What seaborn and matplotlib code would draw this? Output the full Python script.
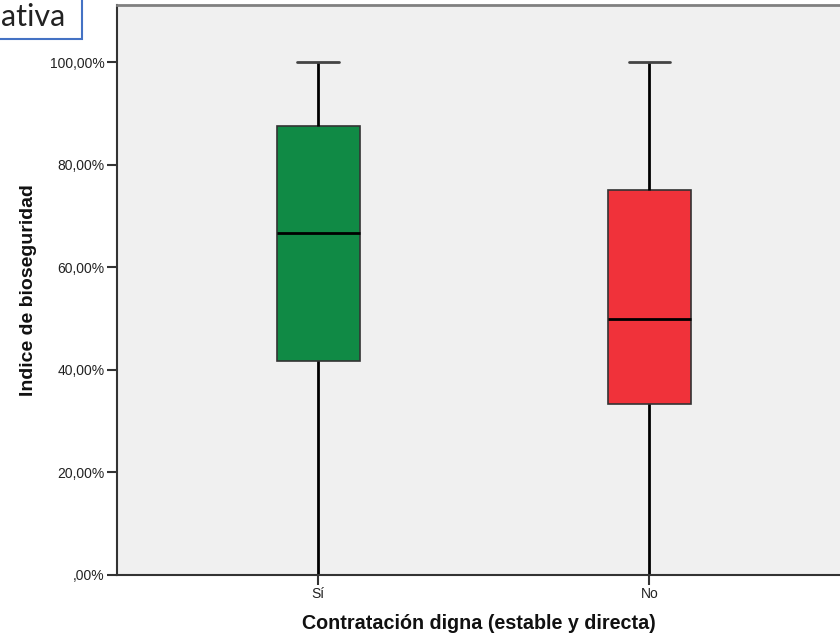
import matplotlib
matplotlib.use("Agg")
import matplotlib.pyplot as plt
import matplotlib.patches as mpatches
from matplotlib.ticker import FuncFormatter
import seaborn as sns
import pandas as pd

# Data (min, Q1, median, Q3, max)
categories = ["Sí", "No"]
si_values = [0.0, 41.67, 66.67, 87.5, 100.0]
no_values = [0.0, 33.33, 50.0, 75.0, 100.0]
box_colors = ["#108A45", "#F0323A"]
y_ticks = [0, 20, 40, 60, 80, 100]

df = pd.DataFrame({
    "grupo": [categories[0]] * len(si_values) + [categories[1]] * len(no_values),
    "valor": si_values + no_values,
})

sns.set_theme(style="white")
plt.rcParams["font.family"] = ["Liberation Sans", "DejaVu Sans"]

fig = plt.figure(figsize=(8.4, 6.37), dpi=100)
ax = fig.add_axes([117 / 840, 1 - 575 / 637, 1 - 117 / 840 + 0.002, (575 - 5) / 637])
ax.set_facecolor("#F0F0F0")

sns.boxplot(
    data=df, x="grupo", y="valor", hue="grupo", order=categories,
    palette=box_colors, legend=False, width=0.25, whis=1.5, ax=ax,
    linewidth=1.2, linecolor="#222222",
    whiskerprops=dict(color="black", linewidth=2),
    capprops=dict(color="#444444", linewidth=2),
    medianprops=dict(color="black", linewidth=2),
    boxprops=dict(edgecolor="#333333", linewidth=1.2),
    showfliers=False, saturation=1,
)

ax.set_ylim(0, (575 - 5) / ((575 - 62) / 100))
ax.set_xlim(-0.607, 1.58)
ax.set_yticks(y_ticks)
ax.yaxis.set_major_formatter(FuncFormatter(lambda v, p: (f"{v:.2f}".replace(".", ",") + "%") if v != 0 else ",00%"))

for s in ["left", "bottom"]:
    ax.spines[s].set_color("#333333")
    ax.spines[s].set_linewidth(1.5)
ax.spines["top"].set_color("#808080")
ax.spines["top"].set_linewidth(2)
ax.spines["right"].set_visible(False)

ax.tick_params(axis="both", which="both", direction="out", length=7, width=1.5,
               color="#333333", labelsize=10, labelcolor="#222222", pad=2,
               left=True, bottom=True)
ax.set_xlabel("Contratación digna (estable y directa)", fontsize=14.2, fontweight="bold",
              color="#111111", labelpad=9)
ax.set_ylabel("Indice de bioseguridad", fontsize=14, fontweight="bold",
              color="#111111", labelpad=9)

# top-left cropped label box
rect = mpatches.Rectangle((-10 / 840, 1 - 39 / 637), 92 / 840, 50 / 637, transform=fig.transFigure,
                          facecolor="white", edgecolor="#4472C4", linewidth=1.5, clip_on=False)
fig.patches.append(rect)
fig.text(1 / 840, 1 - 17 / 637, "ativa", fontsize=22, family=["Lato", "DejaVu Sans"],
         ha="left", va="center", color="#222222")

fig.savefig("out.png", dpi=100)
